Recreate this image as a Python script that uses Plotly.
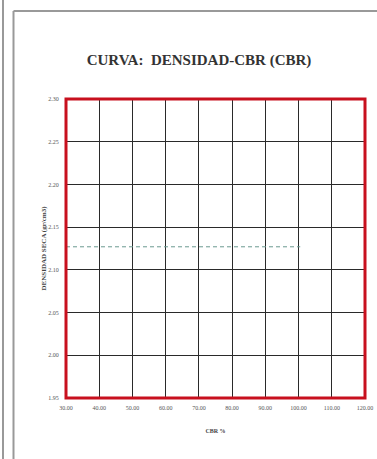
import plotly.graph_objects as go

# Data
cbr_values = [30.0, 100.5]
density_values = [2.127, 2.127]
x_ticks = [30, 40, 50, 60, 70, 80, 90, 100, 110, 120]
y_ticks = [1.95, 2.00, 2.05, 2.10, 2.15, 2.20, 2.25, 2.30]

W, H = 377, 459
L, R, T, B = 66, 12, 99, 61
pw = W - L - R
ph = H - T - B

def px(x):
    return (x - L) / pw

def py(y):
    return 1 - (y - T) / ph

fig = go.Figure()
fig.add_trace(go.Scatter(
    x=cbr_values, y=density_values, mode="lines",
    line=dict(color="#6a9a90", width=1, dash="4px,3px"),
    showlegend=False, hoverinfo="skip"))

axis_font = dict(family="Liberation Serif", size=6, color="#555")
fig.update_layout(
    width=W, height=H,
    margin=dict(l=L, r=R, t=T, b=B, autoexpand=False),
    paper_bgcolor="white", plot_bgcolor="white",
    title=dict(text="<b>CURVA:  DENSIDAD-CBR (CBR)</b>",
               x=199 / W, xanchor="center", y=1 - 60 / H, yanchor="middle",
               font=dict(family="Liberation Serif", size=15, color="#333")),
    xaxis=dict(range=[30, 120], tickvals=x_ticks, tickformat=".2f",
               showgrid=True, gridcolor="#2a2a2a", gridwidth=1,
               zeroline=False, showline=False, ticks="outside", ticklen=4, tickcolor="rgba(0,0,0,0)",
               tickfont=axis_font, fixedrange=True, automargin=False,
               title=dict(text="<b>CBR %</b>", font=dict(family="Liberation Serif", size=6, color="#444"), standoff=18)),
    yaxis=dict(range=[1.95, 2.30], tickvals=y_ticks, tickformat=".2f",
               showgrid=True, gridcolor="#2a2a2a", gridwidth=1,
               zeroline=False, showline=False, ticks="outside", ticklen=5, tickcolor="rgba(0,0,0,0)",
               tickfont=axis_font, fixedrange=True, automargin=False,
               title=dict(text="<b>DENSIDAD SECA (gr/cm3)</b>", font=dict(family="Liberation Serif", size=7, color="#444"), standoff=0)),
    shapes=[
        dict(type="rect", xref="paper", yref="paper", x0=0, x1=1, y0=0, y1=1,
             line=dict(color="#c8101e", width=3)),
        dict(type="line", xref="paper", yref="paper", x0=px(3), x1=px(3), y0=py(0), y1=py(H),
             line=dict(color="#999", width=2)),
        dict(type="line", xref="paper", yref="paper", x0=px(13.5), x1=px(13.5), y0=py(11), y1=py(H),
             line=dict(color="#999", width=2)),
        dict(type="line", xref="paper", yref="paper", x0=px(13.5), x1=px(W), y0=py(11), y1=py(11),
             line=dict(color="#999", width=2)),
    ],
)

fig.write_html("out.html", config={"displayModeBar": False},
               post_script="document.body.style.margin='0';document.body.style.overflow='hidden';")
